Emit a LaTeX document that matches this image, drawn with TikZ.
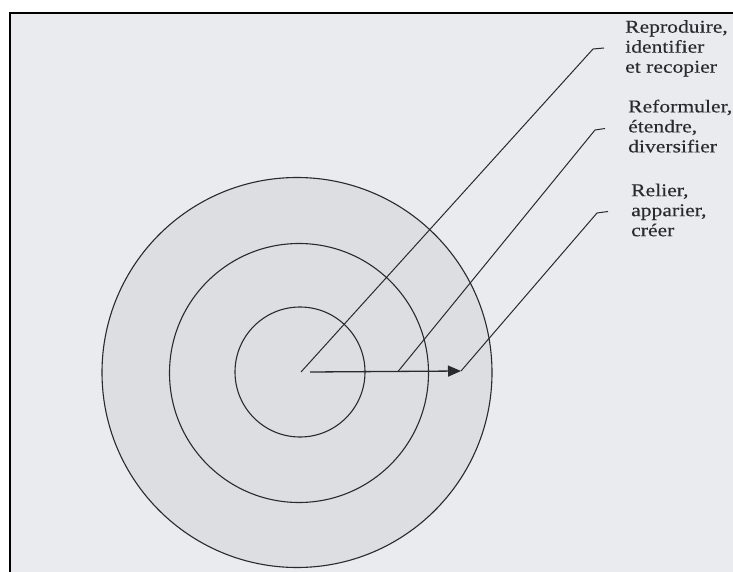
\documentclass[tikz,border=0pt]{standalone}
\usepackage{fontspec}
\setmainfont{Liberation Serif}[FakeStretch=1.2,FakeBold=0.25]
\usetikzlibrary{arrows.meta}
\definecolor{paper}{HTML}{E9EBEF}
\definecolor{disk}{HTML}{DCDEE2}
\definecolor{ink}{HTML}{2A2A2E}
\begin{document}
\begin{tikzpicture}[x=1pt,y=-1pt,
  ring/.style={circle,draw=ink,line width=1.1pt,inner sep=0pt},
  leader/.style={draw=ink,line width=1pt},
  lab/.style={anchor=north west,inner sep=0pt,align=left,text=ink,
    font=\fontsize{18}{20}\selectfont}]
\useasboundingbox (0,0) rectangle (733,572);
\fill[white] (0,0) rectangle (733,572);
\fill[paper] (10,13) rectangle (733,572);
\draw[black,line width=2pt] (10,572) -- (10,13) -- (733,13);
% rings
\node[ring,fill=disk,minimum size=390pt] (outer) at (297,372.5) {};
\node[ring,minimum size=259pt] (middle) at (299,373) {};
\node[ring,minimum size=130pt] (inner) at (300,372) {};
% anchor points
\coordinate (s1) at (301,372);
\coordinate (s2) at (398,371.5);
\coordinate (a0) at (310,372);
\coordinate (s3) at (461,371);
\coordinate (k1) at (593,49);
\coordinate (e1) at (604,48);
\coordinate (k2) at (595,130);
\coordinate (e2) at (605,128.5);
\coordinate (k3) at (597,213);
\coordinate (e3) at (608,211.5);
% labels
\node[lab] (t1) at (625,20) {Reproduire,\\identifier\\et recopier};
\node[lab] (t2) at (628,99.5) {Reformuler,\\étendre,\\diversifier};
\node[lab] (t3) at (631,183.5) {Relier,\\apparier,\\créer};
% leaders
\draw[leader] (s1) -- (k1) -- (e1);
\draw[leader] (s2) -- (k2) -- (e2);
\draw[leader] (s3) -- (k3) -- (e3);
% arrow
\draw[draw=ink,line width=1.3pt,-{Triangle[length=13pt,width=11pt]}] (a0) -- (s3);
\end{tikzpicture}
\end{document}
